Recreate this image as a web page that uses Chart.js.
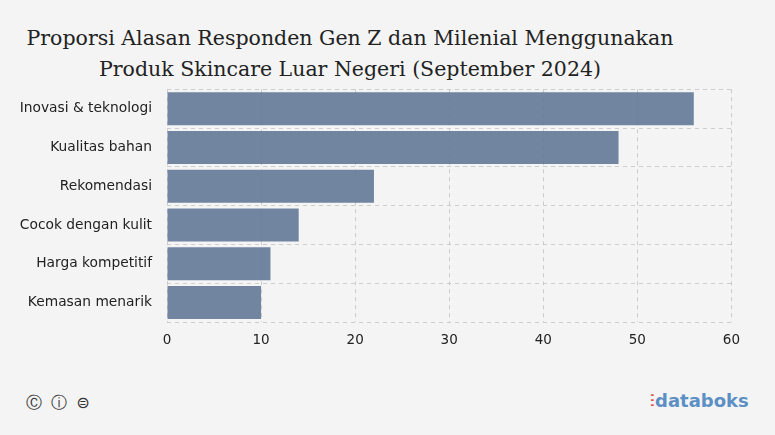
<!DOCTYPE html>
<html><head><meta charset="utf-8">
<script src="https://cdn.jsdelivr.net/npm/chart.js@4"></script>
<style>
html,body{margin:0;padding:0;background:#f4f4f4;width:775px;height:435px;overflow:hidden;font-family:"DejaVu Sans",sans-serif}
#title{position:absolute;left:0;top:23px;width:700px;text-align:center;font-family:"DejaVu Serif",serif;font-size:20.5px;color:#222;line-height:31px}
#wrap{position:absolute;left:0;top:66px;width:750px;height:292px}
#cc{position:absolute;left:26px;top:393px;font-size:16px;color:#333;letter-spacing:2px}
#logo{position:absolute;left:650px;top:390px;font-size:18px;color:#5c8fc4;font-weight:bold}
</style></head><body>
<div id="title">Proporsi Alasan Responden Gen Z dan Milenial Menggunakan<br>Produk Skincare Luar Negeri (September 2024)</div>
<div id="wrap"><canvas id="c"></canvas></div>
<div id="cc">Ⓒ ⓘ ⊜</div>
<div id="logo"><span style="color:#e0524a">⫶</span>databoks</div>
<script>
const categories=["Inovasi & teknologi","Kualitas bahan","Rekomendasi","Cocok dengan kulit","Harga kompetitif","Kemasan menarik"];
const values=[56,48,22,14,11,10];
Chart.defaults.font.family='"DejaVu Sans", sans-serif';
new Chart(document.getElementById('c'),{type:'bar',
data:{labels:categories,datasets:[{data:values,backgroundColor:'rgba(94,117,148,0.88)',barPercentage:0.85,categoryPercentage:1}]},
options:{indexAxis:'y',responsive:true,maintainAspectRatio:false,animation:false,
layout:{padding:{left:0,right:9,top:0,bottom:0}},
plugins:{legend:{display:false},tooltip:{enabled:false}},
scales:{x:{min:0,max:60,afterFit:s=>{s.height=36},ticks:{stepSize:10,color:'#222',font:{size:13.5},padding:10},grid:{color:'#ccc',borderDash:[4,4],drawTicks:false},border:{display:false,dash:[4,4]}},
y:{afterFit:s=>{s.width=167},ticks:{color:'#222',font:{size:13.8},padding:15},grid:{color:'#ccc',drawTicks:false},border:{display:false,dash:[4,4]}}}}});
</script></body></html>
